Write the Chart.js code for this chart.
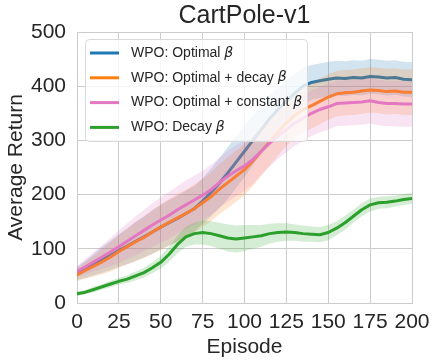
<!DOCTYPE html>
<html><head><meta charset="utf-8">
<script src="https://cdn.jsdelivr.net/npm/chart.js@4.4.0/dist/chart.umd.min.js"></script>
<style>html,body{margin:0;padding:0;background:#fff}</style>
</head><body>
<canvas id="c" width="437" height="364"></canvas>
<script>
// ---- data ----
const episodes = [0,5,10,15,20,25,30,35,40,45,50,55,60,65,70,75,80,85,90,95,100,105,110,115,120,125,130,135,140,145,150,155,160,165,170,175,180,185,190,195,200];

const seriesLabels = ["WPO: Optimal β", "WPO: Optimal + decay β", "WPO: Optimal + constant β", "WPO: Decay β"];

const optimalMean   = [55,62,71,80,88,97,105,114,122,131,140,148,156,165,174,188,204,221,240,260,280,300,320,340,357,372,387,400,407,410,413,415,414,416,415,418,417,415,416,413,412];
const optimalSpread = [12,16,20,24,27,30,33,36,38,40,41,42,42,42,42,42,44,46,48,48,48,46,44,42,40,38,36,34,32,32,32,32,32,32,32,32,32,32,32,32,32];

const decayOptMean   = [52,60,68,76,85,95,104,113,121,131,140,149,157,165,174,185,196,210,222,234,246,262,280,297,315,332,346,357,364,372,380,386,388,389,391,393,392,390,391,389,389];
const decayOptSpread = [12,15,19,23,27,30,33,36,38,40,42,43,44,44,44,44,45,46,47,47,47,46,45,44,43,42,42,42,42,42,42,42,42,42,42,42,42,42,42,42,42];

const constOptMean   = [58,67,76,85,94,104,114,124,134,144,153,162,172,181,190,199,209,222,234,244,253,265,280,295,308,320,332,341,350,357,362,368,369,370,371,373,370,368,368,367,367];
const constOptSpread = [10,14,18,22,26,30,33,36,38,40,42,43,44,45,45,45,46,46,47,47,46,45,44,43,42,42,42,42,42,42,42,42,42,42,42,42,42,42,42,42,42];

const decayMean   = [17,20,25,30,35,40,44,50,56,65,75,90,108,122,128,130,128,124,120,118,120,122,124,128,130,131,130,128,127,126,130,138,148,160,172,181,185,186,188,191,193];
const decaySpread = [4,4,5,5,6,6,7,8,9,10,12,14,16,18,20,22,23,24,25,25,24,22,20,18,17,16,15,15,14,14,14,13,13,12,12,12,11,11,10,10,10];

const xTicks = [0,25,50,75,100,125,150,175,200];
const yTicks = [0,100,200,300,400,500];

const colors = ["#1f77b4", "#ff7f0e", "#e377c2", "#2ca02c"];
const fills  = ["rgba(31,119,180,0.2)", "rgba(255,127,14,0.2)", "rgba(227,119,194,0.2)", "rgba(44,160,44,0.2)"];

const means = [optimalMean, decayOptMean, constOptMean, decayMean];
const spreads = [optimalSpread, decayOptSpread, constOptSpread, decaySpread];

const FONT = "'Liberation Sans', Arial, sans-serif";
const TXT = "#262626";
Chart.defaults.font.family = FONT;

const datasets = [];
let ord = 1000;
means.forEach((m, i) => {
  const sp = spreads[i];
  datasets.push({ label: "_lo" + i, data: episodes.map((x, j) => ({x, y: m[j] - sp[j]})),
    borderWidth: 0, pointRadius: 0, fill: false, borderColor: "rgba(0,0,0,0)", order: ord-- });
  datasets.push({ label: "_hi" + i, data: episodes.map((x, j) => ({x, y: m[j] + sp[j]})),
    borderWidth: 0, pointRadius: 0, fill: "-1", backgroundColor: fills[i], borderColor: "rgba(0,0,0,0)", order: ord-- });
  datasets.push({ label: seriesLabels[i], data: episodes.map((x, j) => ({x, y: m[j]})),
    borderWidth: 3, pointRadius: 0, fill: false, borderColor: colors[i], order: ord--, borderJoinStyle: "round", borderCapStyle: "round" });
});

const legendPlugin = {
  id: "customLegend",
  afterDatasetsDraw(chart) {
    const ctx = chart.ctx;
    const a = chart.chartArea;
    const x0 = a.left + 8, y0 = a.top + 7, w = 222, h = 102;
    ctx.save();
    ctx.beginPath();
    ctx.roundRect(x0 + 0.5, y0 + 0.5, w, h, 4);
    ctx.fillStyle = "rgba(255,255,255,0.8)";
    ctx.fill();
    ctx.strokeStyle = "#d9d9d9";
    ctx.lineWidth = 1;
    ctx.stroke();
    seriesLabels.forEach((lab, i) => {
      const y = y0 + 14 + i * 24.8;
      ctx.beginPath();
      ctx.moveTo(x0 + 5, y); ctx.lineTo(x0 + 34, y);
      ctx.strokeStyle = colors[i]; ctx.lineWidth = 3; ctx.stroke();
      ctx.fillStyle = TXT;
      ctx.textBaseline = "middle";
      const plain = lab.slice(0, -1);
      ctx.font = "14px " + FONT;
      ctx.fillText(plain, x0 + 46, y);
      const pw = ctx.measureText(plain).width;
      ctx.font = "italic 14px 'DejaVu Sans', " + FONT;
      ctx.fillText(lab.slice(-1), x0 + 46 + pw, y);
    });
    ctx.restore();
  }
};

new Chart(document.getElementById("c"), {
  type: "line",
  data: { datasets },
  plugins: [legendPlugin],
  options: {
    responsive: false,
    animation: false,
    devicePixelRatio: 1,
    layout: { padding: { left: 0, right: 25, top: 0, bottom: 0 } },
    plugins: {
      legend: { display: false },
      tooltip: { enabled: false },
      title: { display: true, text: "CartPole-v1", fullSize: false, color: TXT,
        font: { size: 25, weight: "normal", family: FONT }, padding: { top: 1, bottom: 1 } }
    },
    scales: {
      x: {
        type: "linear", min: 0, max: 200,
        afterBuildTicks(s) { s.ticks = xTicks.map(v => ({ value: v })); },
        afterFit(s) { s.height = 61; },
        ticks: { color: TXT, font: { size: 21 }, padding: 7, maxRotation: 0, autoSkip: false },
        grid: { color: "#cccccc", lineWidth: 1, drawTicks: false },
        border: { color: "#cccccc" },
        title: { display: true, text: "Episode", color: TXT, font: { size: 21 }, padding: { top: 0, bottom: 4 } }
      },
      y: {
        min: 0, max: 500,
        afterBuildTicks(s) { s.ticks = yTicks.map(v => ({ value: v })); },
        afterFit(s) { s.width = 77; },
        ticks: { color: TXT, font: { size: 21 }, padding: 11, autoSkip: false },
        grid: { color: "#cccccc", lineWidth: 1, drawTicks: false },
        border: { color: "#cccccc" },
        title: { display: true, text: "Average Return", color: TXT, font: { size: 21 }, padding: { top: 4, bottom: 0 } }
      }
    }
  }
});
</script>
</body></html>
